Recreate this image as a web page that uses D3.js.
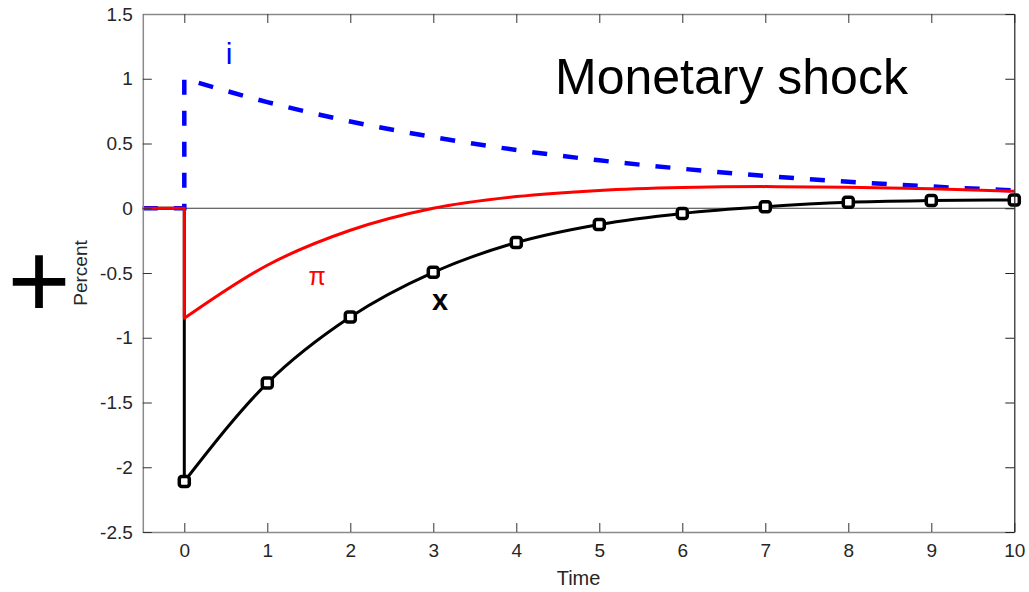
<!DOCTYPE html>
<html>
<head>
<meta charset="utf-8">
<script src="https://cdn.jsdelivr.net/npm/d3@7"></script>
<style>
  html, body { margin: 0; padding: 0; background: #fff; }
  svg { display: block; font-family: "Liberation Sans", Arial, Helvetica, sans-serif; }
</style>
</head>
<body>
<svg id="chart" width="1029" height="592"></svg>
<script>
// ---- data ----
const preTime = -0.5;
const times = [0, 1, 2, 3, 4, 5, 6, 7, 8, 9, 10];
const xGap = [-2.11, -1.35, -0.84, -0.495, -0.265, -0.125, -0.04, 0.012, 0.046, 0.059, 0.064];
const inflation = [-0.85, -0.44, -0.17, 0.0, 0.09, 0.138, 0.16, 0.167, 0.162, 0.15, 0.132];
const interest = [1.0, 0.82, 0.67, 0.55, 0.45, 0.37, 0.305, 0.25, 0.205, 0.168, 0.138];
const xTicks = [0, 1, 2, 3, 4, 5, 6, 7, 8, 9, 10];
const yTicks = [1.5, 1, 0.5, 0, -0.5, -1, -1.5, -2, -2.5];
const xDomain = [-0.5, 10];
const yDomain = [-2.5, 1.5];

// ---- layout ----
const svg = d3.select("#chart");
const pL = 142.8, pR = 1014.3, pT = 14, pB = 532;
const x = d3.scaleLinear().domain(xDomain).range([pL, pR]);
const y = d3.scaleLinear().domain(yDomain).range([pB, pT]);
const fmt = d => String(d);

// zero line
svg.append("line")
  .attr("x1", pL).attr("x2", pR)
  .attr("y1", y(0)).attr("y2", y(0))
  .attr("stroke", "#3a3a3a").attr("stroke-width", 1);

// series path builder: flat pre-shock segment, vertical jump, smooth curve
function seriesPath(vals) {
  const lin = d3.line().x(d => x(d[0])).y(d => y(d[1]));
  const pre = lin([[preTime, 0], [0, 0], [0, vals[0]]]);
  const curve = d3.line().x(d => x(d[0])).y(d => y(d[1])).curve(d3.curveMonotoneX);
  const post = curve(times.map((t, i) => [t, vals[i]]));
  return pre + post.replace(/^M/, "L");
}

// black output gap
svg.append("path")
  .attr("d", seriesPath(xGap))
  .attr("fill", "none").attr("stroke", "#000").attr("stroke-width", 3)
  .attr("stroke-linejoin", "round");

svg.append("g").selectAll("rect")
  .data(times.map((t, i) => [t, xGap[i]]))
  .join("rect")
  .attr("x", d => x(d[0]) - 5).attr("y", d => y(d[1]) - 5)
  .attr("width", 10).attr("height", 10).attr("rx", 2.5)
  .attr("fill", "#fff").attr("stroke", "#000").attr("stroke-width", 3.5);

// blue interest rate (dashed)
svg.append("path")
  .attr("d", seriesPath(interest))
  .attr("fill", "none").attr("stroke", "#0000ff").attr("stroke-width", 4.5)
  .attr("stroke-dasharray", "15 16");

// red inflation
svg.append("path")
  .attr("d", seriesPath(inflation))
  .attr("fill", "none").attr("stroke", "#ff0000").attr("stroke-width", 3)
  .attr("stroke-linejoin", "round");

// ---- axes ----
const axisColor = "#8a8a8a";
const tickFont = "19px";

const gB = svg.append("g").attr("transform", `translate(0,${pB})`)
  .call(d3.axisBottom(x).tickValues(xTicks).tickFormat(fmt).tickSize(-9).tickSizeOuter(0).tickPadding(12));
const gL = svg.append("g").attr("transform", `translate(${pL},0)`)
  .call(d3.axisLeft(y).tickValues(yTicks).tickFormat(fmt).tickSize(-9).tickSizeOuter(0).tickPadding(10));
const gT = svg.append("g").attr("transform", `translate(0,${pT})`)
  .call(d3.axisTop(x).tickValues(xTicks).tickFormat("").tickSize(-9).tickSizeOuter(0));
const gR = svg.append("g").attr("transform", `translate(${pR},0)`)
  .call(d3.axisRight(y).tickValues(yTicks).tickFormat("").tickSize(-9).tickSizeOuter(0));

[gB, gL, gT].forEach(g => {
  g.select(".domain").attr("stroke", axisColor).attr("stroke-width", 1.5);
  g.selectAll(".tick line").attr("stroke", "#333").attr("stroke-width", 1);
  g.selectAll(".tick text").attr("fill", "#262626").style("font-size", tickFont)
    .style("font-family", '"Liberation Sans", Arial, sans-serif');
});
gR.select(".domain").attr("stroke", "#222").attr("stroke-width", 1.2);
gR.selectAll(".tick line").attr("stroke", "#222").attr("stroke-width", 1);

// axis labels
svg.append("text")
  .attr("x", (pL + pR) / 2).attr("y", 585)
  .attr("text-anchor", "middle").attr("fill", "#262626")
  .style("font-size", "20px").text("Time");

svg.append("text")
  .attr("transform", `translate(87,${(pT + pB) / 2}) rotate(-90)`)
  .attr("text-anchor", "middle").attr("fill", "#262626")
  .style("font-size", "19px").text("Percent");

// annotations
svg.append("text")
  .attr("x", 555).attr("y", 94)
  .attr("fill", "#000").style("font-size", "50px").text("Monetary shock");

svg.append("text")
  .attr("x", 229).attr("y", 64).attr("text-anchor", "middle")
  .attr("fill", "#0000ff").style("font-size", "30px").text("i");

svg.append("text")
  .attr("x", 317).attr("y", 285).attr("text-anchor", "middle")
  .attr("fill", "#ff0000").style("font-size", "25px").text("π");

svg.append("text")
  .attr("x", 440).attr("y", 310).attr("text-anchor", "middle")
  .attr("fill", "#000").style("font-size", "29px").style("font-weight", "bold").text("x");

svg.append("text")
  .attr("x", 39).attr("y", 317).attr("text-anchor", "middle")
  .attr("fill", "#000").style("font-size", "108px").text("+");
</script>
</body>
</html>
